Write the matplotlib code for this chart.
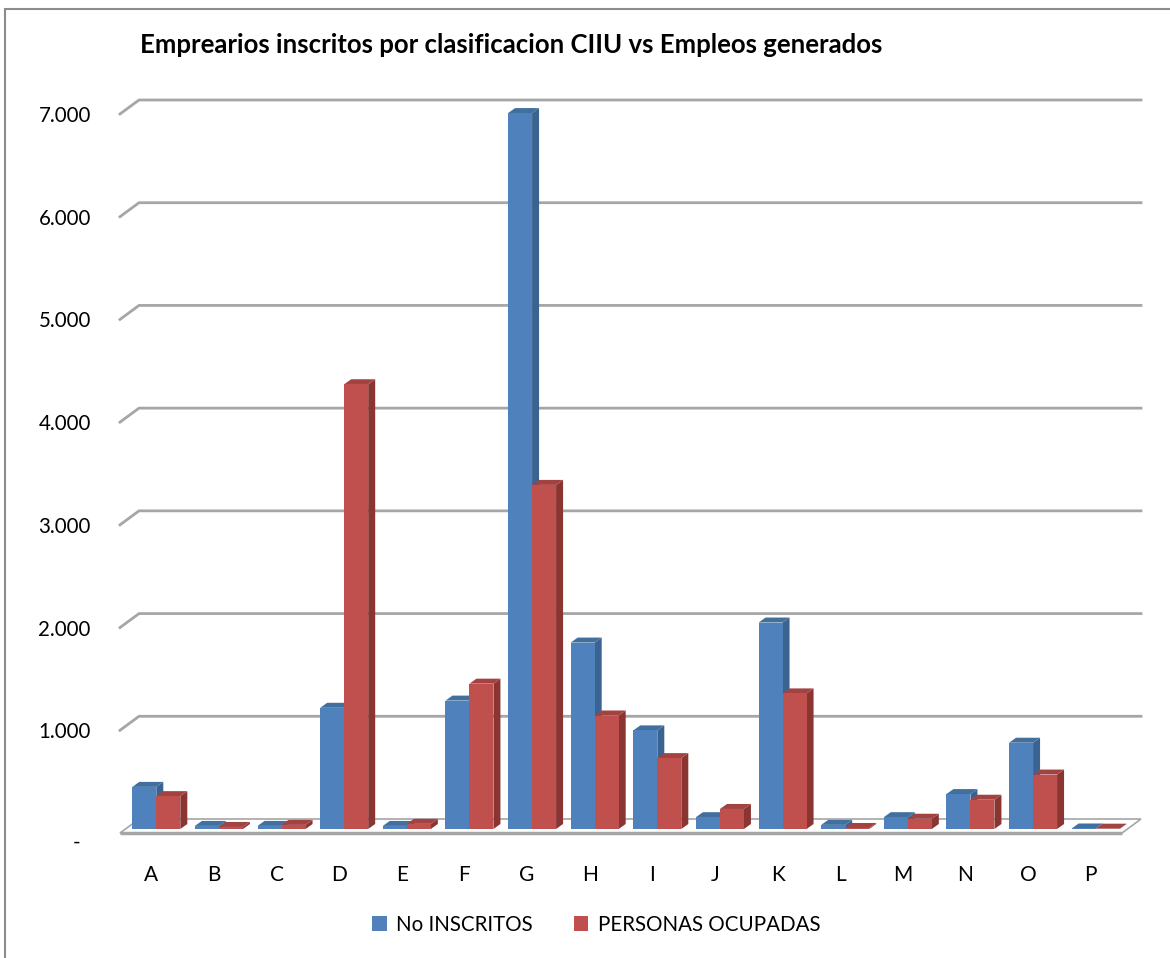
import matplotlib
matplotlib.use("Agg")
import matplotlib.pyplot as plt
from matplotlib.patches import Polygon, Rectangle, Patch
import numpy as np

plt.rcParams['font.family'] = ['Lato', 'DejaVu Sans']

categories = ["A", "B", "C", "D", "E", "F", "G", "H", "I", "J", "K", "L", "M", "N", "O", "P"]
no_inscritos = [410, 30, 30, 1180, 30, 1250, 6970, 1815, 960, 115, 2010, 40, 115, 340, 840, 5]
personas_ocupadas = [320, 20, 40, 4330, 50, 1415, 3350, 1105, 690, 195, 1320, 10, 100, 285, 530, 3]
series_names = ["No INSCRITOS", "PERSONAS OCUPADAS"]
ytick_values = [0, 1000, 2000, 3000, 4000, 5000, 6000, 7000]
ytick_labels = ["-  ", "1.000", "2.000", "3.000", "4.000", "5.000", "6.000", "7.000"]
title = "Emprearios inscritos por clasificacion CIIU vs Empleos generados"

W, H = 1170, 958
fig = plt.figure(figsize=(W / 100, H / 100), dpi=100)

# chart border
fig.add_artist(Rectangle((5 / W, -0.05), 1.1, (H - 9) / H + 0.05, transform=fig.transFigure,
                         fill=False, edgecolor='#8c8c8c', linewidth=1.5))

left_px, right_px = 120, 1122
zero_px, top_px = 833, 114
ax = fig.add_axes([left_px / W, (H - zero_px) / H, (right_px - left_px) / W, (zero_px - top_px) / H])
n = len(categories)
ax.set_xlim(-0.5, n - 0.5)
ax.set_ylim(0, 7000)
for s in ax.spines.values():
    s.set_visible(False)
ax.set_facecolor('none')

# pixel -> data unit conversions
p0 = ax.transData.transform((0, 0))
px_x = ax.transData.transform((1, 0))[0] - p0[0]
px_y = ax.transData.transform((0, 1000))[1] - p0[1]
def dx(p):
    return p / px_x
def dy(p):
    return p / px_y * 1000

# back wall offset
bdx, bdy = dx(19), dy(14)
x0, x1 = -0.5, n - 0.5

grid_col = '#a6a6a6'
# floor
floor = Polygon([(x0, 0), (x1, 0), (x1 + bdx, bdy), (x0 + bdx, bdy)], closed=True,
                facecolor='white', edgecolor=grid_col, linewidth=1.2, zorder=1, clip_on=False)
ax.add_patch(floor)
ax.plot([x0, x1], [0, 0], color=grid_col, lw=2.5, zorder=1.1, clip_on=False, solid_capstyle='butt')

# gridlines on wall
for v in ytick_values[1:]:
    ax.plot([x0, x0 + bdx, x1 + bdx], [v, v + bdy, v + bdy], color=grid_col, lw=2.0,
            zorder=0.5, clip_on=False)

# bars
bw = dx(24)
fdx, fdy = dx(5), dy(4)     # front face offset from front plane
sdx, sdy = dx(7), dy(5)     # depth of bar
colors = [("#4F81BD", "#3A6392", "#41709F"), ("#C0504D", "#8A3532", "#A24341")]
for i in range(n):
    for k, vals in enumerate([no_inscritos, personas_ocupadas]):
        v = vals[i]
        front, side, topc = colors[k]
        xl = i - bw + k * bw + fdx
        xr = xl + bw
        yb = fdy
        yt = fdy + v
        z = 2 + i * 0.01 + k * 0.001
        ax.add_patch(Polygon([(xr, yb), (xr + sdx, yb + sdy), (xr + sdx, yt + sdy), (xr, yt)],
                             closed=True, facecolor=side, edgecolor='none', zorder=z, clip_on=False))
        ax.add_patch(Polygon([(xl, yt), (xr, yt), (xr + sdx, yt + sdy), (xl + sdx, yt + sdy)],
                             closed=True, facecolor=topc, edgecolor='none', zorder=z, clip_on=False))
        ax.add_patch(Rectangle((xl, yb), bw, v, facecolor=front, edgecolor='none',
                               zorder=z + 0.0005, clip_on=False))

ax.set_yticks(ytick_values, ytick_labels, fontsize=14.8)
ax.set_xticks(range(n), categories, fontsize=15)
ax.tick_params(axis='y', length=0, pad=21)
ax.tick_params(axis='x', length=0, pad=23)
for lbl in ax.get_yticklabels():
    if lbl.get_text().startswith('-'):
        lbl.set_va('top')

fig.text(140 / W, (H - 45) / H, title, fontsize=18.5, fontweight='bold', ha='left', va='center')

handles = [Patch(facecolor=colors[0][0]), Patch(facecolor=colors[1][0])]
fig.legend(handles, series_names, loc='center', bbox_to_anchor=(596 / W, (H - 925) / H),
           ncol=2, frameon=False, fontsize=14.8, handlelength=0.72, handleheight=0.72,
           handletextpad=0.45, columnspacing=2.0)

fig.savefig("out.png", dpi=100)
